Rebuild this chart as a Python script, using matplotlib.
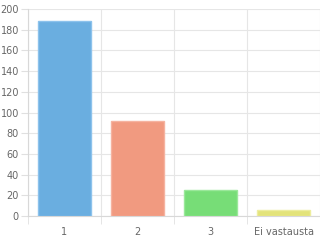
import matplotlib
matplotlib.use("Agg")
import matplotlib.pyplot as plt
import numpy as np

categories = ["1", "2", "3", "Ei vastausta"]
values = [188, 92, 25, 6]
colors = ["#6aaee0", "#f19a80", "#77dd77", "#e3e37a"]
edge_colors = ["#8cc2ec", "#f5b3a0", "#9ae89a", "#eded9e"]
yticks = [0, 20, 40, 60, 80, 100, 120, 140, 160, 180, 200]

fig = plt.figure(figsize=(3.2, 2.4), dpi=100)
ax = fig.add_axes([28/320, 24/240, 292/320, 207/240])
x = np.arange(len(categories))
ax.bar(x, values, width=0.72, color=colors, edgecolor=edge_colors, linewidth=1, zorder=3)
ax.set_xlim(-0.5, len(categories) - 0.5)
ax.set_ylim(0, 200)
ax.set_yticks(yticks)
ax.set_xticks(x)
ax.set_xticklabels(categories)
ax.set_xticks(np.arange(-0.5, len(categories), 1), minor=True)
ax.grid(True, axis="y", color="#e6e6e6", linewidth=0.8, zorder=0)
ax.grid(True, axis="x", which="minor", color="#e6e6e6", linewidth=0.8, zorder=0)
ax.tick_params(axis="x", which="major", length=0, pad=8, labelsize=7, labelcolor="#666666")
ax.tick_params(axis="x", which="minor", length=6, color="#e0e0e0")
ax.tick_params(axis="y", length=5, color="#e0e0e0", labelsize=7, labelcolor="#666666", pad=1.5)
for s in ["top", "right"]:
    ax.spines[s].set_visible(False)
ax.spines["left"].set_color("#d8d8d8")
ax.spines["bottom"].set_color("#d8d8d8")
fig.savefig("out.png", dpi=100)
